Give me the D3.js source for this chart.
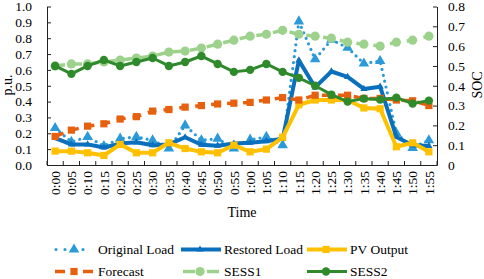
<!DOCTYPE html>
<html>
<head>
<meta charset="utf-8">
<script src="https://cdn.jsdelivr.net/npm/d3@7"></script>
<style>
  body { margin: 0; background: #fff; }
  text { font-family: "Times New Roman", "Liberation Serif", serif; fill: #000; }
</style>
</head>
<body>
<div id="container"></div>
<script>
// categories (5-minute steps)
let times = ["0:00","0:05","0:10","0:15","0:20","0:25","0:30","0:35","0:40","0:45","0:50","0:55",
             "1:00","1:05","1:10","1:15","1:20","1:25","1:30","1:35","1:40","1:45","1:50","1:55"];

// p.u. series (left axis)
let originalLoad = [0.233, 0.146, 0.177, 0.12, 0.166, 0.177, 0.156, 0.104, 0.25, 0.156, 0.166, 0.104,
                    0.16, 0.177, 0.125, 0.906, 0.667, 0.79, 0.74, 0.64, 0.656, 0.2, 0.108, 0.156];
let restoredLoad = [0.17, 0.13, 0.13, 0.11, 0.135, 0.143, 0.125, 0.13, 0.175, 0.128, 0.122, 0.135,
                    0.14, 0.15, 0.165, 0.66, 0.49, 0.59, 0.556, 0.48, 0.494, 0.177, 0.125, 0.12];
let pvOutput = [0.0875, 0.0875, 0.077, 0.06, 0.13, 0.077, 0.077, 0.14, 0.104, 0.083, 0.077, 0.125,
                0.083, 0.1, 0.175, 0.38, 0.41, 0.41, 0.41, 0.36, 0.355, 0.115, 0.14, 0.083];
let forecast = [0.18, 0.22, 0.245, 0.26, 0.29, 0.305, 0.34, 0.35, 0.365, 0.375, 0.385, 0.39,
                0.395, 0.41, 0.425, 0.41, 0.44, 0.44, 0.44, 0.42, 0.42, 0.41, 0.405, 0.375];

// SOC series (right axis)
let sess1 = [0.50, 0.51, 0.51, 0.52, 0.53, 0.54, 0.55, 0.57, 0.575, 0.59, 0.61, 0.63,
             0.65, 0.66, 0.68, 0.66, 0.65, 0.64, 0.62, 0.61, 0.60, 0.62, 0.63, 0.65];
let sess2 = [0.50, 0.46, 0.50, 0.53, 0.50, 0.52, 0.54, 0.50, 0.52, 0.55, 0.51, 0.47,
             0.48, 0.51, 0.47, 0.44, 0.40, 0.355, 0.32, 0.335, 0.33, 0.34, 0.31, 0.325];

let leftTicks = [0, 0.1, 0.2, 0.3, 0.4, 0.5, 0.6, 0.7, 0.8, 0.9, 1.0];
let rightTicks = [0, 0.1, 0.2, 0.3, 0.4, 0.5, 0.6, 0.7, 0.8];

let w = 484;
let h = 279;
let plotLeft = 47, plotRight = 437, plotTop = 6.5, plotBottom = 165;

let viz = d3.select("#container")
  .append("svg")
    .attr("width", w)
    .attr("height", h)
;

let xScale = d3.scaleBand().domain(times).range([plotLeft, plotRight]);
let bw = xScale.bandwidth();
let yLeft = d3.scaleLinear().domain([0, 1]).range([plotBottom, plotTop]);
let yRight = d3.scaleLinear().domain([0, 0.8]).range([plotBottom, plotTop]);

function getX(d, i) { return xScale(times[i]) + bw / 2; }

// series look, drawn in this order
let series = [
  { name: "Original Load", data: originalLoad, axis: yLeft, color: "#2a9ad8", width: 3.2, dash: "0 6", cap: "round",
    legDash: "0 9", legFrom: 1, legTo: 37, marker: "triangle", msize: 48 },
  { name: "Restored Load", data: restoredLoad, axis: yLeft, color: "#0a6fbd", width: 4, dash: null, cap: "butt",
    legDash: null, legFrom: 0, legTo: 40, marker: "triangle", msize: 22 },
  { name: "PV Output", data: pvOutput, axis: yLeft, color: "#ffc000", width: 4, dash: null, cap: "butt",
    legDash: null, legFrom: 0, legTo: 40, marker: "square", msize: 52 },
  { name: "Forecast", data: forecast, axis: yLeft, color: "#e6600e", width: 3.5, dash: "9 7", cap: "butt",
    legDash: "10 18 10", legFrom: 0, legTo: 38, marker: "square", msize: 52 },
  { name: "SESS1", data: sess1, axis: yRight, color: "#9dd28c", width: 3.5, dash: "10 7", cap: "butt",
    legDash: "12 12 12", legFrom: 2, legTo: 38, marker: "circle", msize: 4.6 },
  { name: "SESS2", data: sess2, axis: yRight, color: "#2f8a2c", width: 3, dash: null, cap: "butt",
    legDash: null, legFrom: 0, legTo: 40, marker: "circle", msize: 4.2 }
];

function drawMarker(g, s, x, y) {
  if (s.marker == "circle") {
    g.append("circle").attr("cx", x).attr("cy", y).attr("r", s.msize).attr("fill", s.color);
  } else {
    let type = s.marker == "triangle" ? d3.symbolTriangle : d3.symbolSquare;
    g.append("path")
      .attr("d", d3.symbol().type(type).size(s.msize)())
      .attr("transform", "translate(" + x + "," + y + ")")
      .attr("fill", s.color);
  }
}

// axes (ticks point into the plot)
let xAxisGroup = viz.append("g")
    .attr("transform", "translate(0," + plotBottom + ")")
    .call(d3.axisBottom(xScale).tickSize(0).tickSizeOuter(0));
xAxisGroup.select(".domain").attr("stroke", "#222");
xAxisGroup.selectAll("text")
    .attr("transform", "rotate(-90)")
    .attr("x", -6)
    .attr("y", 0)
    .attr("dy", "0.35em")
    .style("text-anchor", "end")
    .style("font-size", "13.5px");
// category boundary ticks
xAxisGroup.selectAll(".bound")
  .data(times.concat(["end"]))
  .enter().append("line")
    .attr("x1", function(d, i){ return plotLeft + i * bw; })
    .attr("x2", function(d, i){ return plotLeft + i * bw; })
    .attr("y1", 0).attr("y2", -4)
    .attr("stroke", "#222");

let yAxisGroup = viz.append("g")
    .attr("transform", "translate(" + plotLeft + ",0)")
    .call(d3.axisLeft(yLeft).tickValues(leftTicks).tickFormat(d3.format(".1f")).tickSize(-4).tickSizeOuter(0));
let y2AxisGroup = viz.append("g")
    .attr("transform", "translate(" + plotRight + ",0)")
    .call(d3.axisRight(yRight).tickValues(rightTicks)
      .tickFormat(function(d){ return d == 0 ? "0" : d3.format(".1f")(d); })
      .tickSize(-4).tickSizeOuter(0));
[yAxisGroup, y2AxisGroup].forEach(function(g){
  g.selectAll("line").attr("stroke", "#222");
  g.select(".domain").attr("stroke", "#222");
  g.selectAll("text").style("font-size", "13.5px");
});
yAxisGroup.selectAll("text").attr("x", -15);
y2AxisGroup.selectAll("text").attr("x", 11);

// axis titles
viz.append("text").attr("transform", "translate(12,85) rotate(-90)")
  .attr("text-anchor", "middle").style("font-size", "14px").text("p.u.");
viz.append("text").attr("transform", "translate(482,85) rotate(-90)")
  .attr("text-anchor", "middle").style("font-size", "14px").text("SOC");
viz.append("text").attr("x", 242).attr("y", 217)
  .attr("text-anchor", "middle").style("font-size", "14px").text("Time");

// lines and markers
series.forEach(function(s){
  let lineMaker = d3.line().x(getX).y(function(d){ return s.axis(d); });
  let g = viz.append("g");
  g.append("path")
    .datum(s.data)
    .attr("d", lineMaker)
    .attr("fill", "none")
    .attr("stroke", s.color)
    .attr("stroke-width", s.width)
    .attr("stroke-linecap", s.cap)
    .attr("stroke-linejoin", "round")
    .attr("stroke-dasharray", s.dash);
  s.data.forEach(function(d, i){ drawMarker(g, s, getX(d, i), s.axis(d)); });
});

// legend
let legendCols = [55, 181, 307];
let legendRows = [254, 276];
series.forEach(function(s, i){
  let x0 = legendCols[i % 3];
  let y0 = legendRows[Math.floor(i / 3)];
  let g = viz.append("g");
  g.append("line")
    .attr("x1", x0 + s.legFrom).attr("x2", x0 + s.legTo)
    .attr("y1", y0 - 4.5).attr("y2", y0 - 4.5)
    .attr("stroke", s.color)
    .attr("stroke-width", s.width)
    .attr("stroke-linecap", s.cap)
    .attr("stroke-dasharray", s.legDash);
  drawMarker(g, s, x0 + 19, y0 - 4.5);
  g.append("text").attr("x", x0 + 43).attr("y", y0)
    .style("font-size", "13.5px").text(s.name);
});
</script>
</body>
</html>
